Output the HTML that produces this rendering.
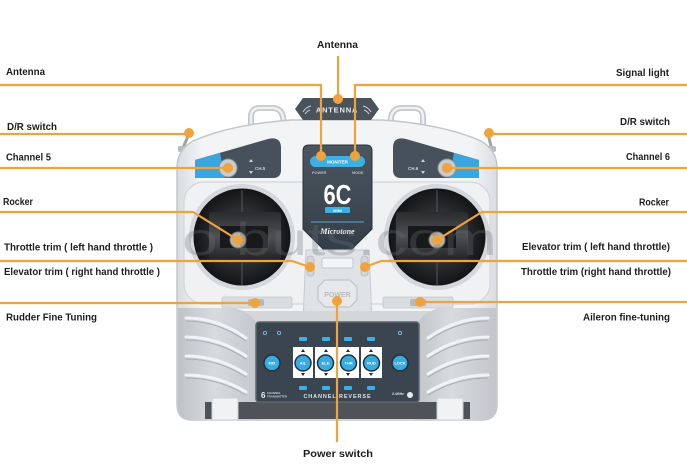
<!DOCTYPE html>
<html><head><meta charset="utf-8">
<style>
html,body{margin:0;padding:0;background:#fff;width:687px;height:475px;overflow:hidden}
svg{display:block}
.lb{font-family:"Liberation Sans",sans-serif;font-size:10px;font-weight:bold;fill:#1d1d1d}
.t{font-family:"Liberation Sans",sans-serif;font-weight:bold}
</style></head><body>
<svg width="687" height="475" viewBox="0 0 687 475" xmlns="http://www.w3.org/2000/svg">
<defs>
 <linearGradient id="body" x1="0" y1="0" x2="1" y2="0">
  <stop offset="0" stop-color="#d9dce0"/><stop offset="0.08" stop-color="#f3f4f6"/><stop offset="0.92" stop-color="#f3f4f6"/><stop offset="1" stop-color="#d9dce0"/>
 </linearGradient>
 <linearGradient id="grip" x1="0" y1="0" x2="1" y2="0">
  <stop offset="0" stop-color="#bfc3c8"/><stop offset="0.45" stop-color="#d8dbde"/><stop offset="1" stop-color="#c2c6cb"/>
 </linearGradient>
 <radialGradient id="well" cx="0.5" cy="0.5" r="0.5">
  <stop offset="0.55" stop-color="#2c2e31"/><stop offset="1" stop-color="#131415"/>
 </radialGradient>
 <linearGradient id="scr" x1="0" y1="0" x2="0" y2="1">
  <stop offset="0" stop-color="#4b5661"/><stop offset="1" stop-color="#343e48"/>
 </linearGradient>
 <linearGradient id="gim" x1="0" y1="0" x2="0" y2="1">
  <stop offset="0" stop-color="#2a2b2d"/><stop offset="0.5" stop-color="#4e5053"/><stop offset="1" stop-color="#232426"/>
 </linearGradient>
</defs>

<rect width="687" height="475" fill="#fff"/>

<!-- handles -->
<path d="M251,132 L251,117 Q251,108 260,108 L272,108 Q281,108 283,117 L285,130" fill="none" stroke="#c5c9ce" stroke-width="6"/>
<path d="M251,132 L251,117 Q251,108 260,108 L272,108 Q281,108 283,117 L285,130" fill="none" stroke="#eef0f2" stroke-width="2.5"/>
<path d="M423,132 L423,117 Q423,108 414,108 L402,108 Q393,108 391,117 L389,130" fill="none" stroke="#c5c9ce" stroke-width="6"/>
<path d="M423,132 L423,117 Q423,108 414,108 L402,108 Q393,108 391,117 L389,130" fill="none" stroke="#eef0f2" stroke-width="2.5"/>

<!-- shoulder toggles -->
<line x1="182" y1="150" x2="189" y2="134" stroke="#9ea3a8" stroke-width="3"/>
<rect x="178" y="146" width="10" height="6" rx="2" fill="#b8bcc1"/>
<line x1="492" y1="150" x2="488" y2="134" stroke="#9ea3a8" stroke-width="3"/>
<rect x="486" y="146" width="10" height="6" rx="2" fill="#b8bcc1"/>

<!-- main body -->
<path d="M177,168 Q177,150 193,141 Q232,124 292,120 L382,120 Q442,124 481,141 Q497,150 497,168 L497,404 Q497,420 482,420 L192,420 Q177,420 177,404 Z" fill="url(#body)" stroke="#c3c7cc" stroke-width="1.5"/>

<!-- upper face bevel -->
<rect x="184" y="182" width="306" height="122" rx="20" fill="#eff1f3" stroke="#d2d5d9" stroke-width="1.2"/>

<!-- antenna tab -->
<path d="M303,98 L371,98 L379,109 L371,120 L303,120 L295,109 Z" fill="#4a525b"/>
<text x="337" y="112.5" class="t" font-size="7.5" fill="#e8ecef" text-anchor="middle" letter-spacing="0.8">ANTENNA</text>
<path d="M303,112 q3,-5 8,-6 M305,114 q2,-3 5,-4" stroke="#c9ced3" stroke-width="1" fill="none"/>
<path d="M371,112 q-3,-5 -8,-6 M369,114 q-2,-3 -5,-4" stroke="#c9ced3" stroke-width="1" fill="none"/>

<!-- switch panels -->
<path d="M195,160 L268,139 Q281,136 281,148 L281,170 Q281,178 273,178 L195,178 Z" fill="#47515b"/>
<path d="M195,160 L220,153 L225,178 L195,178 Z" fill="#3aa6de"/>
<circle cx="228" cy="168" r="9" fill="#c9cdd1" stroke="#8c9196" stroke-width="1"/>
<circle cx="228" cy="168" r="5" fill="#a7acb1"/>
<text x="255" y="170" class="t" font-size="4.5" fill="#ccd2d7">CH.5</text>
<path d="M249,162 l2,-3 l2,3 Z M249,171 l2,3 l2,-3 Z" fill="#ccd2d7"/>

<path d="M479,160 L406,139 Q393,136 393,148 L393,170 Q393,178 401,178 L479,178 Z" fill="#47515b"/>
<path d="M479,160 L454,153 L449,178 L479,178 Z" fill="#3aa6de"/>
<circle cx="447" cy="168" r="9" fill="#c9cdd1" stroke="#8c9196" stroke-width="1"/>
<circle cx="447" cy="168" r="5" fill="#a7acb1"/>
<text x="408" y="170" class="t" font-size="4.5" fill="#ccd2d7">CH.6</text>
<path d="M421,162 l2,-3 l2,3 Z M421,171 l2,3 l2,-3 Z" fill="#ccd2d7"/>

<!-- screen -->
<path d="M309,145 L366,145 Q372,145 372,151 L372,229 L351,250 L324,250 L303,229 L303,151 Q303,145 309,145 Z" fill="url(#scr)" stroke="#2b333b" stroke-width="1"/>
<rect x="310" y="156" width="55" height="11" rx="5.5" fill="#3ab0e6"/>
<text x="337.5" y="163.5" class="t" font-size="4.5" fill="#fff" text-anchor="middle">MONITER</text>
<text x="312" y="174" class="t" font-size="3.8" fill="#b5bec6">POWER</text>
<text x="352" y="174" class="t" font-size="3.8" fill="#b5bec6">MODE</text>
<text x="337.5" y="204" class="t" font-size="28" fill="#fff" text-anchor="middle" transform="translate(337.5 0) scale(0.78 1) translate(-337.5 0)">6C</text>
<rect x="325" y="207" width="25" height="6" rx="1" fill="#3ab0e6"/>
<text x="337.5" y="211.8" class="t" font-size="4" fill="#fff" text-anchor="middle">MINI</text>
<line x1="311" y1="222" x2="364" y2="222" stroke="#5aa7cf" stroke-width="1"/>
<text x="337.5" y="234" font-family="Liberation Serif,serif" font-style="italic" font-weight="bold" font-size="8" fill="#fff" text-anchor="middle">Microtone</text>

<!-- center column below screen -->
<path d="M306,250 L369,250 L372,322 L303,322 Z" fill="#e0e3e6" stroke="#c6cacf" stroke-width="1"/>
<rect x="322" y="258" width="31" height="10" rx="2" fill="#f4f5f6" stroke="#c2c6cb" stroke-width="1"/>
<rect x="307" y="256" width="7" height="20" rx="3" fill="#d2d6da" stroke="#b5babf" stroke-width="0.8"/>
<rect x="361" y="256" width="7" height="20" rx="3" fill="#d2d6da" stroke="#b5babf" stroke-width="0.8"/>
<path d="M325,280 L350,280 L357,287 L357,300 L350,307 L325,307 L318,300 L318,287 Z" fill="#e6e8ea" stroke="#bfc3c8" stroke-width="1.2"/>
<text x="337.5" y="297" class="t" font-size="7" fill="#b9bdc2" text-anchor="middle">POWER</text>

<!-- stick wells -->
<circle cx="242" cy="237" r="53" fill="#d4d7db"/>
<circle cx="242" cy="237" r="48.5" fill="url(#well)"/>
<rect x="209" y="212" width="72" height="48" rx="3" fill="url(#gim)"/>
<rect x="220" y="226" width="48" height="22" fill="#18191a"/>
<line x1="242" y1="190" x2="242" y2="212" stroke="#55585c" stroke-width="1"/>
<line x1="242" y1="262" x2="242" y2="285" stroke="#55585c" stroke-width="1"/>
<circle cx="238" cy="240" r="8" fill="#b9b3a4" stroke="#7b7b78" stroke-width="1"/>

<circle cx="437" cy="237" r="53" fill="#d4d7db"/>
<circle cx="437" cy="237" r="48.5" fill="url(#well)"/>
<rect x="396" y="212" width="72" height="48" rx="3" fill="url(#gim)"/>
<rect x="408" y="226" width="48" height="22" fill="#18191a"/>
<line x1="437" y1="190" x2="437" y2="212" stroke="#55585c" stroke-width="1"/>
<line x1="437" y1="262" x2="437" y2="285" stroke="#55585c" stroke-width="1"/>
<circle cx="437" cy="240" r="8" fill="#b9b3a4" stroke="#7b7b78" stroke-width="1"/>

<!-- trim band -->
<rect x="222" y="297" width="70" height="11" rx="2" fill="#d9dce0" stroke="#c3c7cb" stroke-width="0.8"/>
<rect x="248" y="299" width="16" height="7" rx="2" fill="#b5b9be"/>
<rect x="383" y="297" width="70" height="11" rx="2" fill="#d9dce0" stroke="#c3c7cb" stroke-width="0.8"/>
<rect x="410" y="299" width="16" height="7" rx="2" fill="#b5b9be"/>

<!-- lower middle -->
<rect x="240" y="311" width="195" height="14" fill="#d4d7da"/>

<!-- grips -->
<path d="M178,308 L232,308 Q252,310 260,330 L260,420 L192,420 Q178,420 178,405 Z" fill="url(#grip)"/>
<g fill="none" stroke="#f2f3f5" stroke-width="3" stroke-linecap="round">
 <path d="M186,318 Q218,318 246,338"/>
 <path d="M186,337 Q218,337 246,356"/>
 <path d="M186,356 Q218,356 246,374"/>
 <path d="M186,375 Q218,375 246,392"/>
</g>
<g fill="none" stroke="#a9aeb3" stroke-width="1">
 <path d="M186,321 Q218,321 246,341"/>
 <path d="M186,340 Q218,340 246,359"/>
 <path d="M186,359 Q218,359 246,377"/>
 <path d="M186,378 Q218,378 246,395"/>
</g>
<path d="M496,308 L442,308 Q422,310 414,330 L414,420 L482,420 Q496,420 496,405 Z" fill="url(#grip)"/>
<g fill="none" stroke="#f2f3f5" stroke-width="3" stroke-linecap="round">
 <path d="M488,318 Q456,318 428,338"/>
 <path d="M488,337 Q456,337 428,356"/>
 <path d="M488,356 Q456,356 428,374"/>
 <path d="M488,375 Q456,375 428,392"/>
</g>
<g fill="none" stroke="#a9aeb3" stroke-width="1">
 <path d="M488,321 Q456,321 428,341"/>
 <path d="M488,340 Q456,340 428,359"/>
 <path d="M488,359 Q456,359 428,377"/>
 <path d="M488,378 Q456,378 428,395"/>
</g>

<!-- bottom strip + feet -->
<rect x="205" y="402" width="265" height="17" fill="#4d5359"/>
<rect x="212" y="398" width="26" height="22" rx="2" fill="#f1f2f4" stroke="#cdd1d5"/>
<rect x="437" y="398" width="26" height="22" rx="2" fill="#f1f2f4" stroke="#cdd1d5"/>

<!-- bottom panel -->
<rect x="256" y="322" width="163" height="80" rx="3" fill="#3a4550" stroke="#5b6670" stroke-width="1.5"/>
<g fill="none" stroke="#7fc6e8" stroke-width="0.8">
 <circle cx="265" cy="333" r="1.6"/><circle cx="279" cy="333" r="1.6"/><circle cx="400" cy="333" r="1.6"/>
</g>
<g fill="#fff">
 <rect x="293" y="347" width="20" height="31"/>
 <rect x="315" y="347" width="21" height="31"/>
 <rect x="338" y="347" width="21" height="31"/>
 <rect x="361" y="347" width="21" height="31"/>
</g>
<g fill="#3ab0e6">
 <rect x="299" y="337" width="8" height="4" rx="1"/><rect x="322" y="337" width="8" height="4" rx="1"/>
 <rect x="344" y="337" width="8" height="4" rx="1"/><rect x="367" y="337" width="8" height="4" rx="1"/>
 <rect x="299" y="386" width="8" height="4" rx="1"/><rect x="322" y="386" width="8" height="4" rx="1"/>
 <rect x="344" y="386" width="8" height="4" rx="1"/><rect x="367" y="386" width="8" height="4" rx="1"/>
</g>
<g fill="#222">
 <path d="M301,352 l2,-3 l2,3Z M301,373 l2,3 l2,-3Z"/>
 <path d="M324,352 l2,-3 l2,3Z M324,373 l2,3 l2,-3Z"/>
 <path d="M346,352 l2,-3 l2,3Z M346,373 l2,3 l2,-3Z"/>
 <path d="M369,352 l2,-3 l2,3Z M369,373 l2,3 l2,-3Z"/>
</g>
<g stroke="#243039" stroke-width="1.5" fill="#36ace3">
 <circle cx="272" cy="363" r="8"/>
 <circle cx="303" cy="363" r="8"/>
 <circle cx="325.5" cy="363" r="8"/>
 <circle cx="348.5" cy="363" r="8"/>
 <circle cx="371.5" cy="363" r="8"/>
 <circle cx="400" cy="363" r="8"/>
</g>
<g class="t" font-size="4" fill="#fff" text-anchor="middle">
 <text x="272" y="364.5">MIX</text><text x="303" y="364.5">AIL</text><text x="325.5" y="364.5">ELE</text>
 <text x="348.5" y="364.5">THR</text><text x="371.5" y="364.5">RUD</text><text x="400" y="364.5">LOCK</text>
</g>
<text x="261" y="398" class="t" font-size="8" fill="#e9edf0">6</text>
<text x="267" y="394" class="t" font-size="2.8" fill="#c8d0d6">CHANNEL</text>
<text x="267" y="397.5" class="t" font-size="2.8" fill="#c8d0d6">TRANSMITTER</text>
<text x="337.5" y="398" class="t" font-size="5.5" fill="#dde3e8" text-anchor="middle" letter-spacing="0.9">CHANNEL REVERSE</text>
<text x="392" y="395" class="t" font-size="3.5" fill="#dde3e8">2.4GHz</text>
<circle cx="410" cy="395" r="3" fill="#e6eaee"/>

<!-- watermark -->
<text x="182" y="255" font-family="Liberation Sans,sans-serif" font-size="46" fill="#6c7075" opacity="0.3" textLength="315" lengthAdjust="spacingAndGlyphs">o buts.com</text>

<!-- orange leader lines -->
<g fill="none" stroke="#f0a33a" stroke-width="2.2">
 <path d="M338,56 L338,99"/>
 <path d="M0,85 L321,85 L321,156"/>
 <path d="M687,85 L355,85 L355,156"/>
 <path d="M0,134 L189,134"/>
 <path d="M687,134 L489,134"/>
 <path d="M0,168 L228,168"/>
 <path d="M687,168 L447,168"/>
 <path d="M0,212 L193,212 L238,240"/>
 <path d="M687,212 L482,212 L437,240"/>
 <path d="M0,261 L292,261 L310,267"/>
 <path d="M687,261 L381,261 L365,267"/>
 <path d="M0,303 L255,303"/>
 <path d="M687,302 L420,302"/>
 <path d="M337,301 L337,442"/>
</g>
<g fill="#f0a33a">
 <circle cx="338" cy="99" r="5"/>
 <circle cx="321" cy="156" r="5"/>
 <circle cx="355" cy="156" r="5"/>
 <circle cx="189" cy="133" r="5"/>
 <circle cx="489" cy="133" r="5"/>
 <circle cx="228" cy="168" r="5"/>
 <circle cx="447" cy="168" r="5"/>
 <circle cx="238" cy="240" r="5"/>
 <circle cx="437" cy="240" r="5"/>
 <circle cx="310" cy="267" r="5"/>
 <circle cx="365" cy="267" r="5"/>
 <circle cx="255" cy="303" r="5"/>
 <circle cx="420" cy="302" r="5"/>
 <circle cx="337" cy="301" r="5"/>
</g>

<!-- labels -->
<text class="lb" x="317" y="48" textLength="41" lengthAdjust="spacingAndGlyphs">Antenna</text>
<text class="lb" x="6" y="75" textLength="39" lengthAdjust="spacingAndGlyphs">Antenna</text>
<text class="lb" x="616" y="76" textLength="53" lengthAdjust="spacingAndGlyphs">Signal light</text>
<text class="lb" x="7" y="130" textLength="50" lengthAdjust="spacingAndGlyphs">D/R switch</text>
<text class="lb" x="620" y="125" textLength="50" lengthAdjust="spacingAndGlyphs">D/R switch</text>
<text class="lb" x="6" y="160.5" textLength="45" lengthAdjust="spacingAndGlyphs">Channel 5</text>
<text class="lb" x="626" y="160" textLength="44" lengthAdjust="spacingAndGlyphs">Channel 6</text>
<text class="lb" x="3" y="205" textLength="30" lengthAdjust="spacingAndGlyphs">Rocker</text>
<text class="lb" x="639" y="205.5" textLength="30" lengthAdjust="spacingAndGlyphs">Rocker</text>
<text class="lb" x="4" y="250.5" textLength="149" lengthAdjust="spacingAndGlyphs">Throttle trim ( left hand throttle )</text>
<text class="lb" x="4" y="275" textLength="156" lengthAdjust="spacingAndGlyphs">Elevator trim ( right hand throttle )</text>
<text class="lb" x="522" y="250" textLength="148" lengthAdjust="spacingAndGlyphs">Elevator trim ( left hand throttle)</text>
<text class="lb" x="521" y="275" textLength="150" lengthAdjust="spacingAndGlyphs">Throttle trim (right hand throttle)</text>
<text class="lb" x="6" y="320.5" textLength="91" lengthAdjust="spacingAndGlyphs">Rudder Fine Tuning</text>
<text class="lb" x="583" y="320.5" textLength="87" lengthAdjust="spacingAndGlyphs">Aileron fine-tuning</text>
<text class="lb" x="303" y="457" textLength="70" lengthAdjust="spacingAndGlyphs">Power switch</text>
</svg>
</body></html>
